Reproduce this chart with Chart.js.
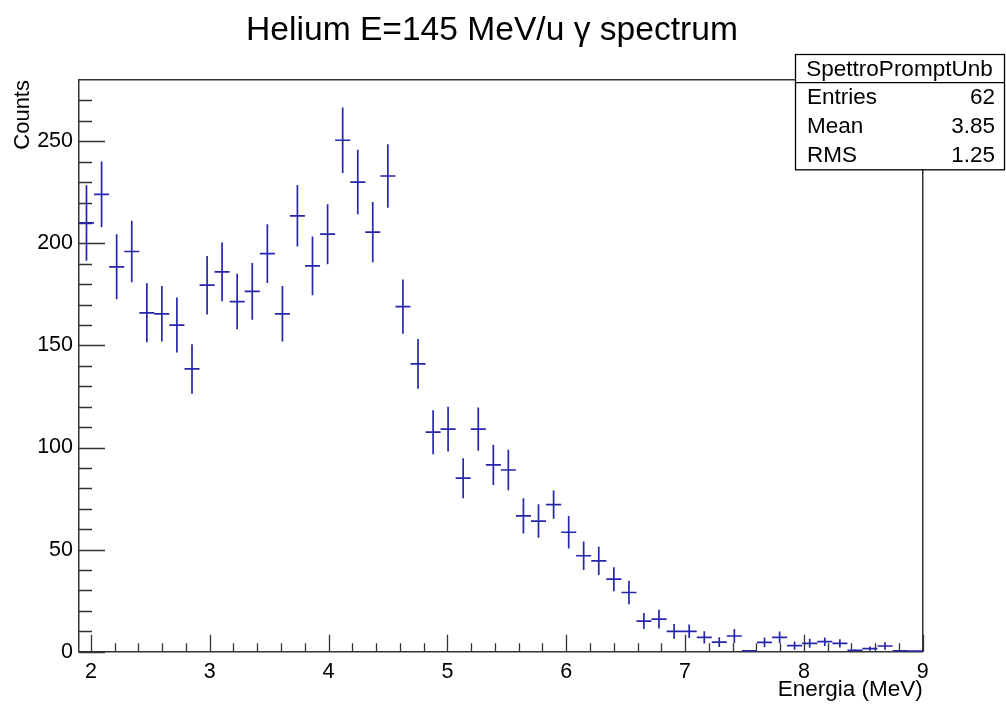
<!DOCTYPE html>
<html>
<head>
<meta charset="utf-8">
<title>Helium spectrum</title>
<script src="https://cdn.jsdelivr.net/npm/chart.js@4.4.1/dist/chart.umd.min.js"></script>
<style>
  html, body { margin: 0; padding: 0; background: #fff; }
  #wrap { width: 1006px; height: 704px; }
</style>
</head>
<body>
<div id="wrap"><canvas id="chartSpectrum" width="1006" height="704"></canvas></div>
<script>
// histogram bins (MeV) and contents
const binCenters = [
  1.963, 2.090, 2.217, 2.344, 2.471, 2.597, 2.724, 2.851, 2.978, 3.104,
  3.231, 3.358, 3.485, 3.612, 3.738, 3.865, 3.992, 4.119, 4.246, 4.372,
  4.499, 4.626, 4.753, 4.880, 5.006, 5.133, 5.260, 5.387, 5.513, 5.640,
  5.767, 5.894, 6.021, 6.147, 6.274, 6.401, 6.528, 6.654, 6.781, 6.908,
  7.035, 7.162, 7.288, 7.415, 7.542, 7.669, 7.796, 7.922, 8.049, 8.176,
  8.303, 8.430, 8.556, 8.683, 8.810, 8.937
];
const binWidth = 0.1268;
const counts = [
  210, 224, 188.5, 196, 166, 165.5, 160, 138.5, 179.5, 186,
  171.5, 176.5, 195, 165.5, 213.5, 189, 204.5, 250.5, 230, 205.5,
  233, 169, 141, 107.5, 109, 85, 109, 91.5, 89, 66.5,
  64, 72, 58.5, 47, 44.5, 35.5, 29, 15, 16, 10,
  10, 7, 4.7, 7.7, 0.4, 4.6, 7, 3, 4.1, 4.9,
  4.1, 0.7, 1.5, 2.8, 0.4, 0.3
];
const countErrors = [
  18.5, 16.1, 15.9, 15.1, 14.4, 13.6, 13.5, 12.1, 14.3, 14.4,
  13.6, 13.9, 14.4, 13.6, 15.1, 14.4, 14.7, 16.1, 15.8, 14.8,
  15.5, 13.3, 12.2, 10.8, 11.0, 9.8, 10.6, 9.9, 9.9, 8.6,
  8.2, 6.9, 8.0, 7.0, 6.9, 5.9, 5.7, 3.9, 4.6, 3.6,
  3.3, 3.0, 2.4, 3.4, 0.3, 2.4, 2.9, 2.0, 2.2, 2.1,
  2.0, 0.5, 1.0, 1.8, 0.3, 0.3
];

const xTickValues = [2, 3, 4, 5, 6, 7, 8, 9];
const yTickValues = [0, 50, 100, 150, 200, 250];
const xRange = [1.9, 9];
const yRange = [0, 280];

const statsTitle = "SpettroPromptUnb";
const statsRows = [["Entries", "62"], ["Mean", "3.85"], ["RMS", "1.25"]];

const FONT = '"Liberation Sans", Arial, Helvetica, sans-serif';
const LINE_BLUE = "rgb(38,38,170)";
const AXIS_GREY = "#333";

Chart.defaults.font.family = FONT;
Chart.defaults.color = "#000";

// crosses: horizontal = bin width, vertical = error
const errorCrosses = {
  id: "errorCrosses",
  afterDatasetsDraw(chart) {
    const {ctx, chartArea: a, scales: {x, y}} = chart;
    const pts = chart.data.datasets[0].data;
    ctx.save();
    ctx.beginPath();
    ctx.rect(a.left, a.top, a.right - a.left, a.bottom - a.top);
    ctx.clip();
    ctx.strokeStyle = LINE_BLUE;
    ctx.lineWidth = 1.7;
    ctx.beginPath();
    pts.forEach(p => {
      const px = x.getPixelForValue(p.x);
      const py = y.getPixelForValue(p.y);
      ctx.moveTo(x.getPixelForValue(p.x - binWidth / 2), py);
      ctx.lineTo(x.getPixelForValue(p.x + binWidth / 2), py);
      ctx.moveTo(px, y.getPixelForValue(p.y + p.err));
      ctx.lineTo(px, y.getPixelForValue(Math.max(p.y - p.err, 0)));
    });
    ctx.stroke();
    ctx.restore();
  }
};

// inward major/minor ticks on both axes
const insideTicks = {
  id: "insideTicks",
  afterDatasetsDraw(chart) {
    const {ctx, chartArea: a, scales: {x, y}} = chart;
    ctx.save();
    ctx.strokeStyle = AXIS_GREY;
    ctx.lineWidth = 1.3;
    ctx.beginPath();
    for (let k = Math.ceil(xRange[0] / 0.2); k * 0.2 < xRange[1] + 1e-6; k++) {
      const v = k * 0.2;
      const major = Math.abs(v - Math.round(v)) < 1e-6;
      const px = Math.round(x.getPixelForValue(v)) + 0.5;
      ctx.moveTo(px, a.bottom);
      ctx.lineTo(px, a.bottom - (major ? 17 : 8.5));
    }
    for (let k = 0; k * 10 < yRange[1]; k++) {
      const py = Math.round(y.getPixelForValue(k * 10)) + 0.5;
      ctx.moveTo(a.left, py);
      ctx.lineTo(a.left + (k % 5 === 0 ? 26 : 13), py);
    }
    ctx.stroke();
    ctx.restore();
  }
};

// stats box in the top right corner
const statsBox = {
  id: "statsBox",
  afterDraw(chart) {
    const ctx = chart.ctx;
    const left = 795, right = 1004, top = 54, sep = 82.7, bottom = 169.3;
    ctx.save();
    ctx.fillStyle = "#fff";
    ctx.fillRect(left, top, right - left, bottom - top);
    ctx.strokeStyle = "#000";
    ctx.lineWidth = 1.3;
    ctx.strokeRect(left + 0.5, top + 0.5, right - left, bottom - top);
    ctx.beginPath();
    ctx.moveTo(left, sep);
    ctx.lineTo(right, sep);
    ctx.stroke();
    ctx.fillStyle = "#000";
    ctx.font = "22.5px " + FONT;
    ctx.textBaseline = "middle";
    ctx.textAlign = "center";
    ctx.fillText(statsTitle, (left + right) / 2, (top + sep) / 2 + 1);
    const rowH = (bottom - sep) / statsRows.length;
    statsRows.forEach((r, i) => {
      const cy = sep + rowH * (i + 0.5) + 1;
      ctx.textAlign = "left";
      ctx.fillText(r[0], 807, cy);
      ctx.textAlign = "right";
      ctx.fillText(r[1], 995, cy);
    });
    ctx.restore();
  }
};

const points = binCenters.map((c, i) => ({x: c, y: counts[i], err: countErrors[i]}));

new Chart(document.getElementById("chartSpectrum"), {
  type: "scatter",
  data: {
    datasets: [{
      label: statsTitle,
      data: points,
      pointRadius: 0,
      pointHoverRadius: 0,
      showLine: false
    }]
  },
  options: {
    responsive: false,
    animation: false,
    layout: { padding: { top: 0, right: 22, bottom: 0, left: 0 } },
    plugins: {
      legend: { display: false },
      tooltip: { enabled: false },
      title: {
        display: true,
        text: "Helium E=145 MeV/u \u03b3 spectrum",
        color: "#000",
        font: { size: 33.6, weight: "normal" },
        padding: { top: 10.5, bottom: 29.2 }
      }
    },
    scales: {
      x: {
        type: "linear",
        position: "bottom",
        min: xRange[0],
        max: xRange[1],
        afterBuildTicks: s => { s.ticks = xTickValues.map(v => ({value: v})); },
        afterFit: s => { s.height = 52.3; },
        grid: { display: false, drawTicks: false },
        border: { display: true, color: AXIS_GREY, width: 1.5 },
        ticks: { font: { size: 21.5 }, color: "#000", padding: 7, maxRotation: 0 },
        title: {
          display: true,
          text: "Energia (MeV)",
          align: "end",
          color: "#000",
          font: { size: 22.5 },
          padding: { top: 0, bottom: 1 }
        }
      },
      xTop: {
        type: "linear",
        position: "top",
        min: xRange[0],
        max: xRange[1],
        afterFit: s => { s.height = 0; },
        grid: { display: false, drawTicks: false },
        border: { display: true, color: AXIS_GREY, width: 1.5 },
        ticks: { display: false }
      },
      y: {
        type: "linear",
        position: "left",
        min: yRange[0],
        max: yRange[1],
        afterBuildTicks: s => { s.ticks = yTickValues.map(v => ({value: v})); },
        afterFit: s => { s.width = 79; },
        grid: { display: false, drawTicks: false },
        border: { display: true, color: AXIS_GREY, width: 1.5 },
        ticks: { font: { size: 21.5 }, color: "#000", padding: 6 },
        title: {
          display: true,
          text: "Counts",
          align: "end",
          color: "#000",
          font: { size: 22 },
          padding: { top: 10, bottom: 0 }
        }
      },
      yRight: {
        type: "linear",
        position: "right",
        min: yRange[0],
        max: yRange[1],
        afterFit: s => { s.width = 61.3; },
        grid: { display: false, drawTicks: false },
        border: { display: true, color: AXIS_GREY, width: 1.5 },
        ticks: { display: false }
      }
    }
  },
  plugins: [insideTicks, errorCrosses, statsBox]
});
</script>
</body>
</html>
